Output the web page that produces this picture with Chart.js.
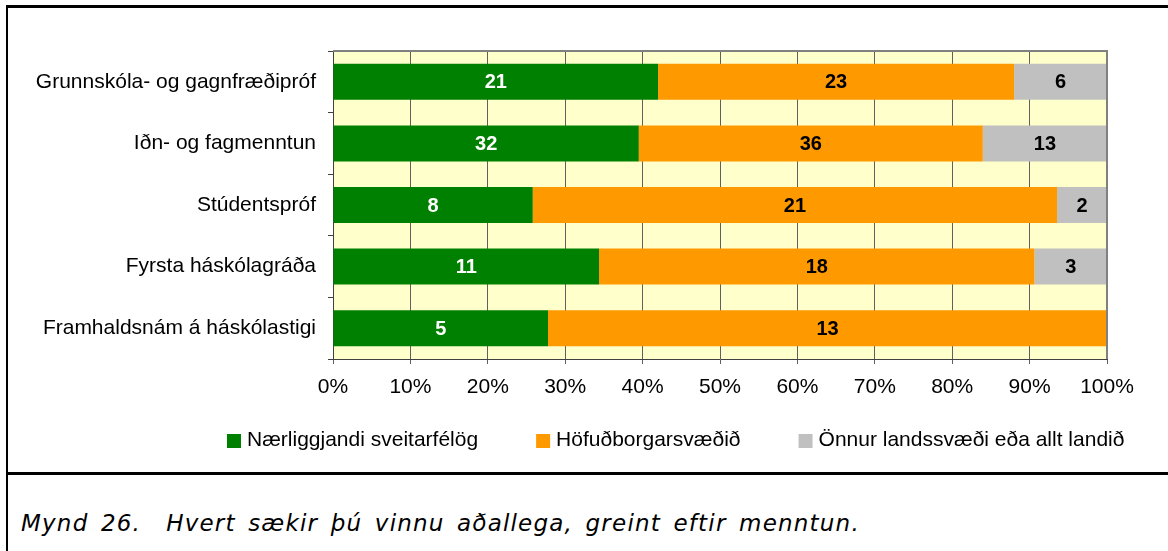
<!DOCTYPE html>
<html>
<head>
<meta charset="utf-8">
<script src="https://cdn.jsdelivr.net/npm/chart.js@4"></script>
<style>
  body { margin: 0; background: #fff; width: 1168px; height: 551px; overflow: hidden; position: relative; }
  #frame { position: absolute; left: 6px; top: 5px; width: 1170px; height: 464px; border-top: 3px solid #000; border-left: 2px solid #000; border-bottom: 3px solid #000; }
  #capbox { position: absolute; left: 6px; top: 475px; height: 80px; border-left: 2px solid #000; }
  #chartWrap { position: absolute; left: 8px; top: 8px; width: 1160px; height: 464px; }
  #caption { position: absolute; left: 21px; top: 512px; font: italic 23px 'DejaVu Sans', Verdana, sans-serif; line-height: 23px; letter-spacing: 1.2px; word-spacing: 4px; white-space: pre; color: #000; }
</style>
</head>
<body>
<div id="frame"></div>
<div id="capbox"></div>
<div id="chartWrap"><canvas id="eduChart" width="1160" height="464"></canvas></div>
<div id="caption">Mynd 26.  Hvert sækir þú vinnu aðallega, greint eftir menntun.</div>

<script>
// data (counts shown inside the bars)
const categories = ['Grunnskóla- og gagnfræðipróf', 'Iðn- og fagmenntun', 'Stúdentspróf', 'Fyrsta háskólagráða', 'Framhaldsnám á háskólastigi'];
const seriesNames = ['Nærliggjandi sveitarfélög', 'Höfuðborgarsvæðið', 'Önnur landssvæði eða allt landið'];
const nearby = [21, 32, 8, 11, 5];
const capital = [23, 36, 21, 18, 13];
const other = [6, 13, 2, 3, 0];
const xTicks = [0, 10, 20, 30, 40, 50, 60, 70, 80, 90, 100];

const colors = ['#008000', '#FF9900', '#C0C0C0'];
const labelColors = ['#ffffff', '#000000', '#000000'];
const counts = [nearby, capital, other];
const totals = categories.map((c, i) => nearby[i] + capital[i] + other[i]);
const FONT = "'Liberation Sans', Arial, sans-serif";

const plotBg = {
    id: 'plotBg',
    beforeDraw(chart) {
        const a = chart.chartArea, ctx = chart.ctx;
        ctx.save();
        ctx.fillStyle = '#FFFFCC';
        ctx.fillRect(a.left, a.top, a.right - a.left, a.bottom - a.top);
        ctx.restore();
    },
    afterDatasetsDraw(chart) {
        const a = chart.chartArea, ctx = chart.ctx;
        ctx.save();
        // counts inside the bars
        ctx.font = 'bold 20px ' + FONT;
        ctx.textAlign = 'center';
        ctx.textBaseline = 'middle';
        chart.data.datasets.forEach((ds, di) => {
            chart.getDatasetMeta(di).data.forEach((el, i) => {
                const n = counts[di][i];
                if (!n) return;
                ctx.fillStyle = labelColors[di];
                ctx.fillText(String(n), (el.x + el.base) / 2, el.y + 1);
            });
        });
        // gray plot border top and right
        ctx.strokeStyle = '#808080';
        ctx.lineWidth = 2;
        ctx.beginPath();
        ctx.moveTo(a.left, a.top);
        ctx.lineTo(a.right, a.top);
        ctx.lineTo(a.right, a.bottom);
        ctx.stroke();
        ctx.restore();
    },
    afterDraw(chart) {
        const ctx = chart.ctx;
        ctx.save();
        ctx.font = '21px ' + FONT;
        ctx.textBaseline = 'middle';
        ctx.textAlign = 'left';
        let x = 219;
        chart.data.datasets.forEach((ds) => {
            ctx.fillStyle = ds.backgroundColor;
            ctx.fillRect(x, 426, 14, 14);
            ctx.fillStyle = '#000';
            ctx.fillText(ds.label, x + 20, 432);
            x += 20 + ctx.measureText(ds.label).width + 58;
        });
        ctx.restore();
    }
};

new Chart(document.getElementById('eduChart').getContext('2d'), {
    type: 'bar',
    data: {
        labels: categories,
        datasets: seriesNames.map((name, k) => ({
            label: name,
            data: counts[k].map((v, i) => v / totals[i] * 100),
            backgroundColor: colors[k],
            borderWidth: 0,
            barPercentage: 0.585,
            categoryPercentage: 1
        }))
    },
    options: {
        indexAxis: 'y',
        responsive: false,
        animation: false,
        layout: { padding: { left: 0, top: 43, right: 61, bottom: 0 } },
        plugins: { legend: { display: false }, tooltip: { enabled: false } },
        scales: {
            x: {
                stacked: true,
                min: 0,
                max: 100,
                afterBuildTicks: (scale) => { scale.ticks = xTicks.map(v => ({ value: v })); },
                afterFit: (scale) => { scale.height = 113; },
                grid: { color: '#606060', lineWidth: 1, tickLength: 5 },
                border: { display: true, color: '#404040', width: 1 },
                ticks: {
                    color: '#000',
                    padding: 11,
                    font: { family: FONT, size: 21 },
                    callback: (v) => v + '%'
                }
            },
            y: {
                stacked: true,
                afterFit: (scale) => { scale.width = 325; },
                grid: { offset: true, drawOnChartArea: false, color: '#404040', tickLength: 5 },
                border: { display: true, color: '#404040', width: 1 },
                ticks: {
                    color: '#000',
                    padding: 12,
                    font: { family: FONT, size: 21 }
                }
            }
        }
    },
    plugins: [plotBg]
});
</script>
</body>
</html>
